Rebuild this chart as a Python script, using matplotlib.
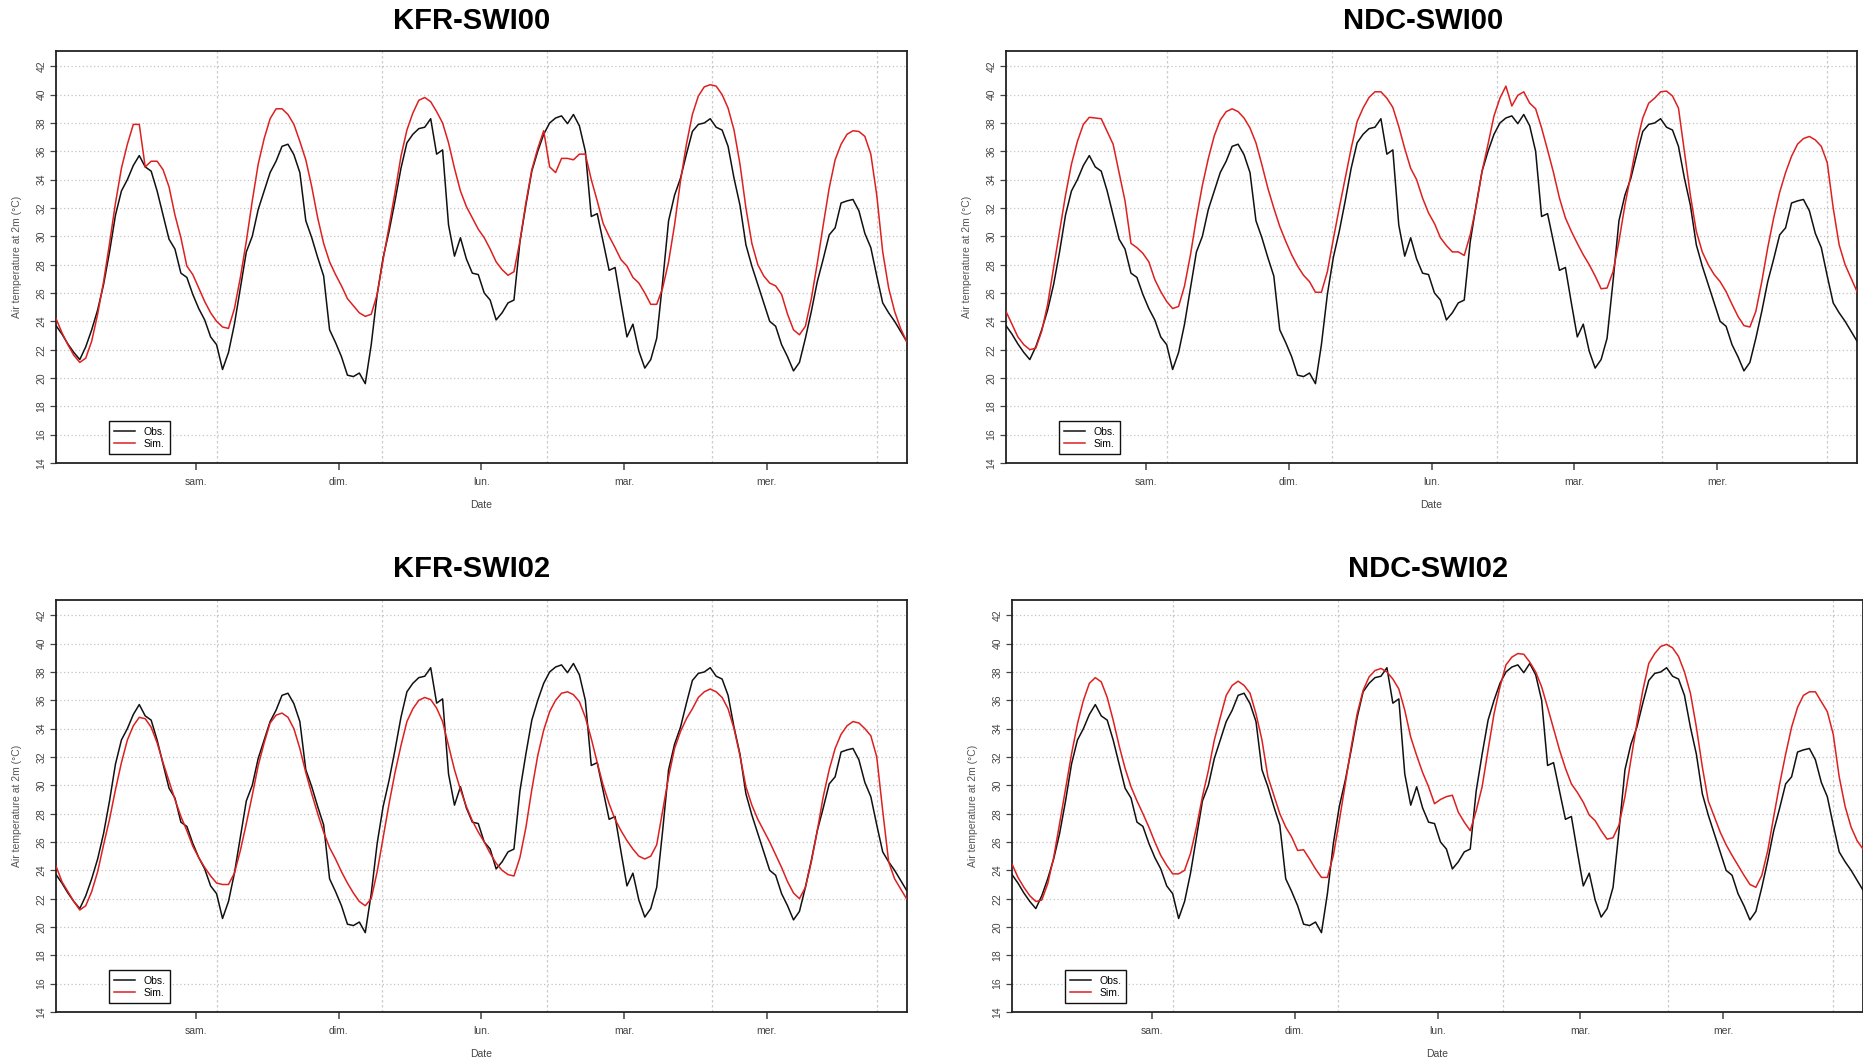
import numpy as np
import matplotlib.pyplot as plt

plt.rcParams['font.family'] = ['Liberation Sans', 'DejaVu Sans']

# hourly values, hours counted from Friday 00:00
hours = np.arange(144) + 0.5
day_ticks = [24, 48, 72, 96, 120]
day_labels = ['sam.', 'dim.', 'lun.', 'mar.', 'mer.']
y_ticks = list(range(14, 43, 2))

obs = [23.7, 23.1, 22.4, 21.8, 21.3, 22.2, 23.4, 24.8, 26.6, 28.9, 31.5, 33.2,
       34.0, 35.0, 35.7, 34.9, 34.6, 33.2, 31.5, 29.8, 29.1, 27.4, 27.1, 25.9,
       24.9, 24.1, 22.9, 22.35, 20.6, 21.8, 23.8, 26.35, 28.9, 30.0, 31.9, 33.2,
       34.5, 35.3, 36.35, 36.5, 35.76, 34.5, 31.1, 29.9, 28.5, 27.2, 23.4, 22.5,
       21.5, 20.2, 20.1, 20.35, 19.6, 22.35, 25.9, 28.5, 30.35, 32.5, 34.8, 36.6,
       37.2, 37.6, 37.7, 38.3, 35.8, 36.1, 30.8, 28.6, 29.9, 28.4, 27.4, 27.3,
       26.0, 25.5, 24.1, 24.6, 25.3, 25.5, 29.6, 32.2, 34.6, 36.0, 37.2, 38.0,
       38.35, 38.5, 37.95, 38.6, 37.8, 36.0, 31.4, 31.6, 29.6, 27.6, 27.8, 25.3,
       22.9, 23.8, 21.9, 20.7, 21.3, 22.8, 26.8, 31.1, 32.9, 34.1, 35.8, 37.4,
       37.9, 38.0, 38.3, 37.7, 37.5, 36.35, 34.1, 32.2, 29.4, 27.9, 26.6, 25.3,
       24.0, 23.65, 22.35, 21.5, 20.5, 21.1, 22.8, 24.7, 26.8, 28.4, 30.1, 30.6,
       32.35, 32.5, 32.6, 31.8, 30.2, 29.2, 27.2, 25.3, 24.6, 24.0, 23.3, 22.6]

sim_kfr00 = [24.2, 23.2, 22.35, 21.6, 21.1, 21.4, 22.6, 24.5, 26.8, 29.5, 32.35, 34.8,
             36.5, 37.9, 37.9, 34.9, 35.3, 35.3, 34.7, 33.5, 31.5, 29.9, 27.9, 27.3,
             26.35, 25.4, 24.6, 24.0, 23.6, 23.5, 24.9, 27.1, 29.65, 32.5, 35.1, 36.9,
             38.3, 39.0, 39.0, 38.6, 37.9, 36.7, 35.4, 33.5, 31.3, 29.5, 28.2, 27.3,
             26.5, 25.6, 25.1, 24.6, 24.35, 24.5, 25.9, 28.35, 30.7, 33.1, 35.65, 37.5,
             38.7, 39.6, 39.8, 39.5, 38.8, 38.0, 36.6, 34.8, 33.2, 32.1, 31.3, 30.5,
             29.9, 29.1, 28.2, 27.65, 27.25, 27.5, 29.65, 32.35, 34.7, 36.2, 37.45, 34.9,
             34.5, 35.5, 35.5, 35.4, 35.8, 35.8, 34.0, 32.5, 30.9, 30.0, 29.2, 28.35,
             27.9, 27.1, 26.7, 26.0, 25.2, 25.2, 26.35, 28.2, 30.8, 33.9, 36.5, 38.6,
             39.9, 40.55, 40.7, 40.6, 40.0, 39.05, 37.5, 35.1, 32.0, 29.5, 28.0, 27.2,
             26.7, 26.5, 25.9, 24.5, 23.4, 23.05, 23.65, 25.6, 28.1, 30.8, 33.4, 35.4,
             36.5, 37.2, 37.45, 37.4, 37.05, 35.8, 32.9, 28.9, 26.35, 24.7, 23.5, 22.6]

sim_ndc00 = [24.7, 23.8, 22.9, 22.35, 22.0, 22.1, 23.3, 25.2, 27.8, 30.35, 32.9, 35.1,
             36.7, 37.9, 38.4, 38.35, 38.3, 37.4, 36.5, 34.5, 32.5, 29.5, 29.2, 28.8,
             28.2, 26.95, 26.1, 25.4, 24.9, 25.05, 26.5, 28.7, 31.3, 33.6, 35.5, 37.1,
             38.2, 38.8, 39.0, 38.8, 38.35, 37.65, 36.6, 35.05, 33.4, 32.0, 30.7, 29.65,
             28.7, 27.9, 27.25, 26.8, 26.05, 26.05, 27.5, 29.8, 32.0, 34.1, 36.2, 38.1,
             39.05, 39.8, 40.2, 40.2, 39.75, 39.1, 37.75, 36.2, 34.8, 34.0, 32.7, 31.65,
             30.9, 29.9, 29.35, 28.9, 28.9, 28.65, 30.1, 32.1, 34.6, 36.5, 38.5, 39.75,
             40.6, 39.2, 39.95, 40.2, 39.4, 39.0, 37.65, 36.1, 34.5, 32.7, 31.3, 30.35,
             29.5, 28.7, 28.0, 27.2, 26.3, 26.35, 27.5, 29.65, 32.2, 34.35, 36.6, 38.35,
             39.4, 39.75, 40.2, 40.25, 39.9, 39.05, 36.0, 32.9, 30.35, 28.9, 28.0, 27.3,
             26.8, 26.1, 25.2, 24.35, 23.7, 23.6, 24.7, 26.8, 29.2, 31.3, 33.1, 34.5,
             35.65, 36.5, 36.9, 37.05, 36.8, 36.35, 35.2, 32.0, 29.4, 28.0, 27.05, 26.1]

sim_kfr02 = [24.3, 23.2, 22.5, 21.8, 21.2, 21.5, 22.5, 23.9, 25.8, 27.6, 29.7, 31.6,
             33.2, 34.2, 34.8, 34.7, 34.1, 33.0, 31.6, 30.3, 29.0, 27.8, 26.8, 25.7,
             24.9, 24.2, 23.6, 23.1, 23.0, 23.0, 23.8, 25.4, 27.3, 29.3, 31.4, 33.0,
             34.4, 34.95, 35.1, 34.8, 34.0, 32.6, 30.9, 29.4, 28.0, 26.7, 25.6, 24.8,
             23.9, 23.1, 22.4, 21.8, 21.5, 22.0, 23.9, 26.3, 28.7, 30.9, 32.8, 34.5,
             35.4, 36.0, 36.2, 36.05, 35.45, 34.5, 32.8, 31.1, 29.7, 28.5, 27.5, 26.7,
             26.0, 25.2, 24.5, 24.0, 23.7, 23.6, 24.9, 27.0, 29.7, 32.1, 33.9, 35.2,
             36.0, 36.5, 36.6, 36.4, 35.9, 34.8, 33.3, 31.6, 30.0, 28.7, 27.6, 26.8,
             26.1, 25.5, 25.0, 24.8, 25.0, 25.8, 28.2, 30.6, 32.6, 33.8, 34.7, 35.4,
             36.2, 36.6, 36.8, 36.6, 36.2, 35.4, 34.0, 32.1, 29.9, 28.6, 27.6, 26.8,
             26.0, 25.1, 24.2, 23.2, 22.4, 22.0, 22.8, 24.6, 26.8, 29.2, 31.1, 32.6,
             33.6, 34.2, 34.5, 34.4, 34.0, 33.5, 32.0, 28.2, 24.6, 23.4, 22.7, 22.0]

sim_ndc02 = [24.45, 23.5, 22.8, 22.2, 21.8, 21.9, 23.05, 24.9, 27.3, 29.75, 32.2, 34.35,
             36.0, 37.2, 37.6, 37.3, 36.2, 34.6, 32.8, 31.2, 29.9, 28.9, 28.0, 27.05,
             26.0, 25.05, 24.35, 23.75, 23.75, 24.0, 25.2, 27.05, 29.2, 31.05, 33.2, 34.8,
             36.35, 37.05, 37.35, 37.05, 36.5, 35.05, 33.2, 30.6, 29.3, 28.0, 27.05, 26.35,
             25.4, 25.45, 24.8, 24.1, 23.5, 23.5, 25.05, 27.5, 30.1, 32.7, 35.05, 36.7,
             37.65, 38.1, 38.25, 38.0, 37.5, 36.8, 35.3, 33.4, 32.1, 30.9, 29.9, 28.7,
             29.0, 29.2, 29.3, 28.1, 27.4, 26.8, 28.2, 29.9, 32.5, 35.05, 36.95, 38.5,
             39.05, 39.3, 39.25, 38.7, 38.0, 36.95, 35.5, 34.0, 32.5, 31.2, 30.1, 29.5,
             28.8, 27.9, 27.5, 26.8, 26.2, 26.3, 27.2, 29.2, 31.8, 34.35, 36.7, 38.6,
             39.3, 39.8, 39.95, 39.7, 39.1, 38.0, 36.5, 34.1, 31.3, 28.9, 27.8, 26.7,
             25.8, 25.05, 24.35, 23.65, 23.0, 22.8, 23.65, 25.4, 27.8, 30.1, 32.2, 34.1,
             35.5, 36.35, 36.6, 36.6, 35.9, 35.2, 33.6, 30.6, 28.5, 27.05, 26.1, 25.5]

# vertical grid lines, in hours
vgrid = 27.57 + 27.73 * np.arange(5)

W, H = 1863, 1064
fig = plt.figure(figsize=(W / 100, H / 100), dpi=100)

# (title, sim series, axes left/top/right/bottom in px, title x/y in px)
panels = [
    ('KFR-SWI00', sim_kfr00, (56, 51, 906.5, 463), (472, 21)),
    ('NDC-SWI00', sim_ndc00, (1006, 51, 1857, 463), (1423, 21)),
    ('KFR-SWI02', sim_kfr02, (56, 600, 906.5, 1012), (472, 569)),
    ('NDC-SWI02', sim_ndc02, (1012, 600, 1863, 1012), (1428, 569)),
]

for title, sim, (l, t, r, b), (tx, ty) in panels:
    ax = fig.add_axes([l / W, 1 - b / H, (r - l) / W, (b - t) / H])

    ax.plot(hours, obs, color='#111111', lw=1.1, label='Obs.', zorder=3)
    ax.plot(hours, sim, color='#dd2020', lw=1.1, label='Sim.', zorder=3)

    ax.set_xlim(hours[0], hours[-1])
    ax.set_ylim(14, 43.08)

    ax.set_yticks(y_ticks)
    ax.set_yticklabels([str(v) for v in y_ticks], rotation=90, va='center')
    ax.set_xticks(day_ticks)
    ax.set_xticklabels(day_labels)
    ax.tick_params(axis='y', direction='out', length=4, width=0.9, pad=3,
                   labelsize=7.5, colors='#444444')
    ax.tick_params(axis='x', direction='out', length=5, width=1.1, pad=5,
                   labelsize=7.5, colors='#444444')

    ax.grid(axis='y', linestyle=(0, (1, 2)), color='#c4c4c4', lw=0.9, zorder=1)
    for g in vgrid:
        ax.axvline(g, linestyle=(0, (2, 2)), color='#cccccc', lw=0.9, zorder=1)

    for s in ax.spines.values():
        s.set_color('#222222')
        s.set_linewidth(1.3)

    ax.set_ylabel('Air temperature at 2m (°C)', fontsize=7.5, color='#555555')
    ax.set_xlabel('Date', fontsize=7.5, color='#444444')
    ax.yaxis.set_label_coords(-0.046, 0.5)
    ax.yaxis.label.set_verticalalignment('center')
    ax.xaxis.set_label_coords(0.5, -0.102)
    ax.xaxis.label.set_verticalalignment('center')

    leg = ax.legend(loc='lower left', bbox_to_anchor=(0.062, 0.022), borderaxespad=0,
                    fancybox=False, framealpha=1, edgecolor='#111111', fontsize=7.5,
                    handlelength=2.0, handletextpad=0.8, borderpad=0.5,
                    labelspacing=0.2)
    leg.get_frame().set_linewidth(1.0)

    fig.text(tx / W, 1 - ty / H, title, ha='center', va='center',
             fontsize=21, fontweight='bold')

fig.savefig('out.png', dpi=100)
